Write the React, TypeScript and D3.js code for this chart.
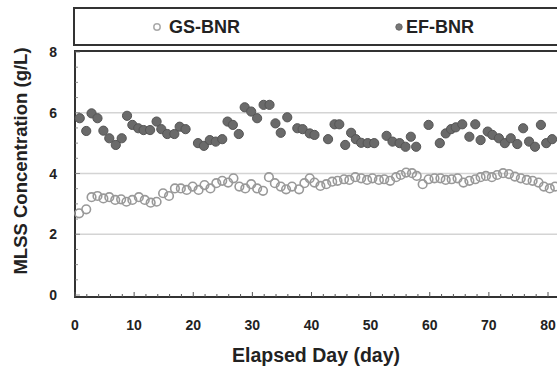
import React from "react";
import * as d3 from "d3";

const gsDays = [0.7,1.9,2.8,3.8,4.8,5.8,6.8,7.8,8.7,9.7,10.8,11.8,12.8,13.8,14.9,15.9,16.9,17.9,18.9,19.9,20.9,21.9,22.9,23.9,24.9,25.9,26.8,27.8,28.8,29.8,30.8,31.8,32.8,33.8,34.8,35.7,36.7,37.9,38.8,39.7,40.5,41.5,42.5,43.5,44.4,45.5,46.4,47.4,48.4,49.4,50.3,51.4,52.3,53.3,54.3,55.1,56.0,57.0,57.8,58.8,59.8,60.8,61.8,62.7,63.7,64.7,65.7,66.7,67.7,68.6,69.5,70.5,71.4,72.4,73.4,74.4,75.4,76.4,77.4,78.4,79.3,80.3,81.2];
const gsValues = [2.69,2.82,3.22,3.26,3.18,3.22,3.13,3.15,3.07,3.13,3.22,3.13,3.04,3.07,3.35,3.26,3.51,3.51,3.46,3.57,3.46,3.62,3.51,3.68,3.76,3.70,3.84,3.57,3.51,3.65,3.51,3.43,3.88,3.68,3.57,3.48,3.57,3.48,3.68,3.84,3.70,3.59,3.65,3.73,3.76,3.81,3.79,3.88,3.84,3.79,3.84,3.79,3.81,3.76,3.88,3.95,4.03,4.01,3.92,3.65,3.81,3.84,3.84,3.79,3.81,3.84,3.70,3.76,3.81,3.88,3.92,3.88,3.95,4.01,3.98,3.90,3.84,3.79,3.76,3.70,3.57,3.51,3.57];

const efDays = [0.8,1.9,2.8,3.8,4.8,5.8,6.9,7.9,8.8,9.7,10.7,11.6,12.7,13.8,14.6,15.6,16.8,17.7,18.7,20.8,21.8,22.8,23.8,24.9,25.8,26.7,27.7,28.7,29.8,30.8,31.9,32.9,33.9,34.8,35.9,37.6,38.5,39.7,40.5,42.8,43.9,44.7,45.7,46.7,47.5,48.4,49.5,50.6,52.7,53.7,54.9,55.9,56.8,57.7,59.8,61.7,62.7,63.6,64.4,65.5,66.7,67.7,68.6,69.8,70.6,71.7,72.7,73.7,74.8,75.8,76.8,77.8,78.8,79.7,80.7];
const efValues = [5.82,5.40,5.98,5.82,5.41,5.16,4.94,5.16,5.90,5.60,5.49,5.43,5.43,5.71,5.46,5.30,5.30,5.54,5.46,5.00,4.91,5.10,5.05,5.13,5.71,5.60,5.30,6.18,6.04,5.82,6.26,6.26,5.65,5.34,5.85,5.49,5.46,5.32,5.27,5.13,5.62,5.62,4.94,5.34,5.13,5.01,5.00,5.00,5.24,5.05,5.00,4.88,5.21,4.88,5.60,5.00,5.32,5.46,5.52,5.62,5.21,5.62,5.10,5.38,5.27,5.16,5.00,5.16,4.97,5.49,5.05,4.88,5.60,5.00,5.13];

const xTicks = [0,10,20,30,40,50,60,70,80];
const yTicks = [0,2,4,6,8];
const seriesNames = ["GS-BNR","EF-BNR"];
const xTitle = "Elapsed Day (day)";
const yTitle = "MLSS Concentration (g/L)";

export default function App() {
  const W = 557, H = 370;
  const x = d3.scaleLinear().domain([0, 80]).range([75, 548]);
  const y = d3.scaleLinear().domain([0, 8]).range([295, 52]);
  const font = "'Liberation Sans', Arial, sans-serif";
  const minorX = d3.range(0, 84, 2);
  const minorY = d3.range(0, 8.01, 0.5);
  const left = 75, bottom = 297, top = 51, right = 562;
  return (
    <svg width={W} height={H} style={{ position: "absolute", left: 0, top: 0, background: "#fff" }} fontFamily={font}>
      <rect x={0} y={0} width={W} height={H} fill="#fff" />
      {/* legend box */}
      <rect x={74} y={8} width={500} height={37} fill="#fff" stroke="#333" strokeWidth={2} />
      <circle cx={157} cy={27} r={3.2} fill="#fff" stroke="#aaa" strokeWidth={1.5} />
      <text x={169} y={33} fontSize={18} fontWeight="bold" fill="#222">{seriesNames[0]}</text>
      <circle cx={399} cy={27} r={3.2} fill="#777" stroke="#666" strokeWidth={1} />
      <text x={406} y={33} fontSize={18} fontWeight="bold" fill="#222">{seriesNames[1]}</text>

      {/* gridlines */}
      {yTicks.filter(t => t > 0 && t < 8).map(t => (
        <line key={"g" + t} x1={left} x2={right} y1={y(t)} y2={y(t)} stroke="#d4d4d4" strokeWidth={1.3} />
      ))}
      {/* frame */}
      <line x1={left} x2={right} y1={top} y2={top} stroke="#333" strokeWidth={2} />
      <line x1={left} x2={left} y1={top - 1} y2={bottom + 1} stroke="#333" strokeWidth={2} />
      <line x1={left - 1} x2={right} y1={bottom} y2={bottom} stroke="#333" strokeWidth={2} />
      {minorX.map(t => (
        <line key={"mx" + t} x1={x(t)} x2={x(t)} y1={bottom} y2={bottom - (t % 10 === 0 ? 5 : 3)} stroke="#555" strokeWidth={1} />
      ))}
      {minorY.map(t => (
        <line key={"my" + t} x1={left} x2={left + (t % 2 === 0 ? 5 : 3)} y1={y(t)} y2={y(t)} stroke="#777" strokeWidth={0.8} />
      ))}

      {/* GS series */}
      {gsDays.map((d, i) => (
        <circle key={"gs" + i} cx={x(d)} cy={y(gsValues[i])} r={4.3} fill="none" stroke="#999" strokeWidth={1.6} />
      ))}
      {/* EF series */}
      {efDays.map((d, i) => (
        <circle key={"ef" + i} cx={x(d)} cy={y(efValues[i])} r={4.6} fill="#6a6a6a" stroke="#555" strokeWidth={1} />
      ))}

      {/* tick labels */}
      {xTicks.map(t => (
        <text key={"xt" + t} x={x(t)} y={330} textAnchor="middle" fontSize={14} fontWeight="bold" fill="#222">{t}</text>
      ))}
      {yTicks.map(t => (
        <text key={"yt" + t} x={57} y={y(t) + 5} textAnchor="end" fontSize={14} fontWeight="bold" fill="#222">{t}</text>
      ))}
      <text x={316} y={362} textAnchor="middle" fontSize={19.5} fontWeight="bold" fill="#222">{xTitle}</text>
      <text transform={`translate(27,161) rotate(-90)`} textAnchor="middle" fontSize={18.5} fontWeight="bold" fill="#222">{yTitle}</text>
    </svg>
  );
}
